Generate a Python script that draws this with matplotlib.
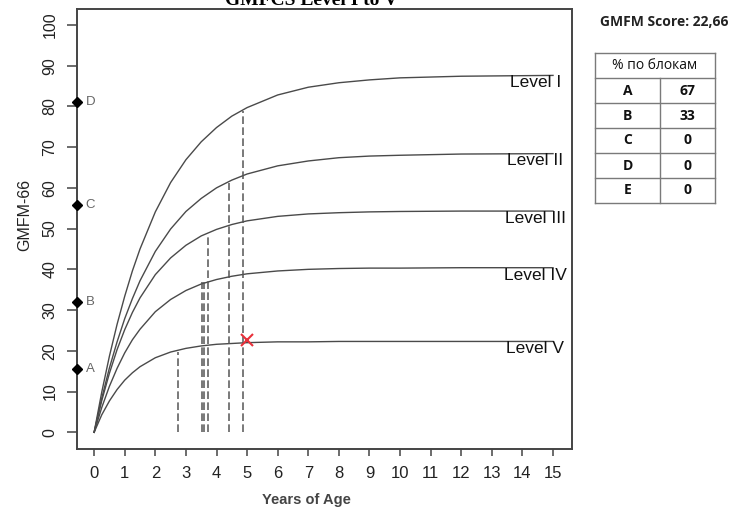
import matplotlib
matplotlib.use("Agg")
import matplotlib.pyplot as plt

plt.rcParams['font.family'] = ['Liberation Sans', 'DejaVu Sans']

# motor growth curves (GMFM-66 by age, levels I-V)
ages = [0, 0.25, 0.5, 0.75, 1, 1.25, 1.5, 2, 2.5, 3, 3.5, 4, 4.5, 5,
        6, 7, 8, 9, 10, 12, 15]
level_1 = [0, 9.9, 18.7, 26.5, 33.4, 39.6, 45.0, 54.1, 61.3, 66.9, 71.3,
           74.8, 77.6, 79.7, 82.8, 84.7, 85.8, 86.5, 87.0, 87.4, 87.6]
level_2 = [0, 8.4, 15.8, 22.2, 27.9, 32.8, 37.2, 44.4, 49.9, 54.2, 57.4,
           60.0, 61.9, 63.4, 65.4, 66.6, 67.4, 67.8, 68.0, 68.3, 68.4]
level_3 = [0, 7.8, 14.5, 20.3, 25.2, 29.4, 33.0, 38.7, 42.8, 45.9, 48.2,
           49.8, 51.0, 51.9, 53.0, 53.6, 53.9, 54.1, 54.2, 54.3, 54.3]
level_4 = [0, 6.1, 11.3, 15.7, 19.5, 22.7, 25.3, 29.6, 32.6, 34.8, 36.4,
           37.5, 38.3, 38.9, 39.6, 40.0, 40.2, 40.3, 40.3, 40.4, 40.4]
level_5 = [0, 4.3, 7.7, 10.5, 12.8, 14.6, 16.1, 18.3, 19.7, 20.6, 21.2,
           21.6, 21.8, 22.0, 22.2, 22.2, 22.3, 22.3, 22.3, 22.3, 22.3]
level_names = ['Level I', 'Level II', 'Level III', 'Level IV', 'Level V']

# dashed age markers (age, top of dash)
dash_ages = [2.75, 3.53, 3.60, 3.73, 4.40, 4.85]
dash_tops = [19.8, 36.8, 36.8, 48.7, 61.2, 78.8]

# block reference points on the y axis
block_letters = ['A', 'B', 'C', 'D']
block_scores = [15.6, 31.9, 55.8, 81.1]

# patient
score_age = 5
score = 22.66

# table on the right
table_blocks = ['A', 'B', 'C', 'D', 'E']
table_pct = [67, 33, 0, 0, 0]

W, H = 738, 509
fig = plt.figure(figsize=(W / 100, H / 100), dpi=100)
ax = fig.add_axes([77 / W, (H - 449) / H, 495 / W, 440 / H])

curve_col = '#4a4a4a'
for vals in [level_1, level_2, level_3, level_4, level_5]:
    ax.plot(ages, vals, color=curve_col, lw=1.0)

for a, top in zip(dash_ages, dash_tops):
    ax.plot([a, a], [0, top], color='#555555', lw=1.1, linestyle=(0, (5, 2.2)))

for name, vals in zip(level_names, [level_1, level_2, level_3, level_4, level_5]):
    ax.text(14.42, vals[-1] - 1.8, name, ha='center', va='center',
            fontsize=12.5, color='#111111')

xmin = -0.56
ax.plot([xmin] * len(block_scores), block_scores, 'D', color='black', ms=5,
        clip_on=False, zorder=5)
for letter, s in zip(block_letters, block_scores):
    ax.text(-0.27, s, letter, ha='left', va='center', fontsize=9.5, color='#666666')

ax.plot([score_age], [score], 'x', color='#e8303a', ms=8, mew=1.5)

ax.set_xlim(xmin, 15.62)
ax.set_ylim(-4.1, 103.9)
ax.set_xticks(range(0, 16))
ax.set_yticks(range(0, 101, 10))

for sp in ax.spines.values():
    sp.set_color('#444444')
    sp.set_linewidth(1.4)
ax.tick_params(axis='x', length=5, width=1.1, color='#444444', pad=7,
               labelsize=12, labelcolor='#222222')
ax.tick_params(axis='y', length=7, width=1.1, color='#444444', pad=7,
               labelsize=11.5, labelcolor='#222222', labelrotation=90)
for lbl in ax.get_yticklabels():
    lbl.set_va('center')

ax.set_xlabel('Years of Age', fontsize=10.5, fontweight='bold', color='#444444')
ax.xaxis.set_label_coords(0.4626, -0.116)
ax.xaxis.label.set_va('center')
ax.set_ylabel('GMFM-66', fontsize=11.5, color='#222222')
ax.yaxis.set_label_coords(-0.105, 0.532)
ax.yaxis.label.set_va('center')

ax.text(0.474, 1.009, 'GMFCS Level I to V', transform=ax.transAxes,
        ha='center', va='baseline', fontsize=14, fontweight='bold',
        family='Liberation Serif', clip_on=False)

# score text and table
right_font = ['Open Sans', 'DejaVu Sans']
fig.text(600 / W, 1 - 21.7 / H, 'GMFM Score: ' + f'{score:.2f}'.replace('.', ','),
         ha='left', va='center', fontsize=10, fontweight='bold',
         family=right_font, color='#222222')

tab = fig.add_axes([595 / W, (H - 203) / H, 120 / W, 150 / H])
nrows = len(table_blocks) + 1
tab.set_xlim(0, 1)
tab.set_ylim(nrows, 0)
tab.axis('off')
edge = '#7a7a7a'
for r in range(nrows + 1):
    tab.plot([0, 1], [r, r], color=edge, lw=1, clip_on=False)
tab.plot([0, 0], [0, nrows], color=edge, lw=1, clip_on=False)
tab.plot([1, 1], [0, nrows], color=edge, lw=1, clip_on=False)
tab.plot([0.54, 0.54], [1, nrows], color=edge, lw=1, clip_on=False)
tab.text(0.5, 0.5, '% по блокам', ha='center', va='center', fontsize=10,
         family=right_font, color='#111111')
for i, (b, p) in enumerate(zip(table_blocks, table_pct)):
    tab.text(0.27, i + 1.5, b, ha='center', va='center', fontsize=10,
             fontweight='bold', family=right_font, color='#111111')
    tab.text(0.77, i + 1.5, str(p), ha='center', va='center', fontsize=10,
             fontweight='bold', family=right_font, color='#111111')

fig.savefig('out.png', dpi=100)
